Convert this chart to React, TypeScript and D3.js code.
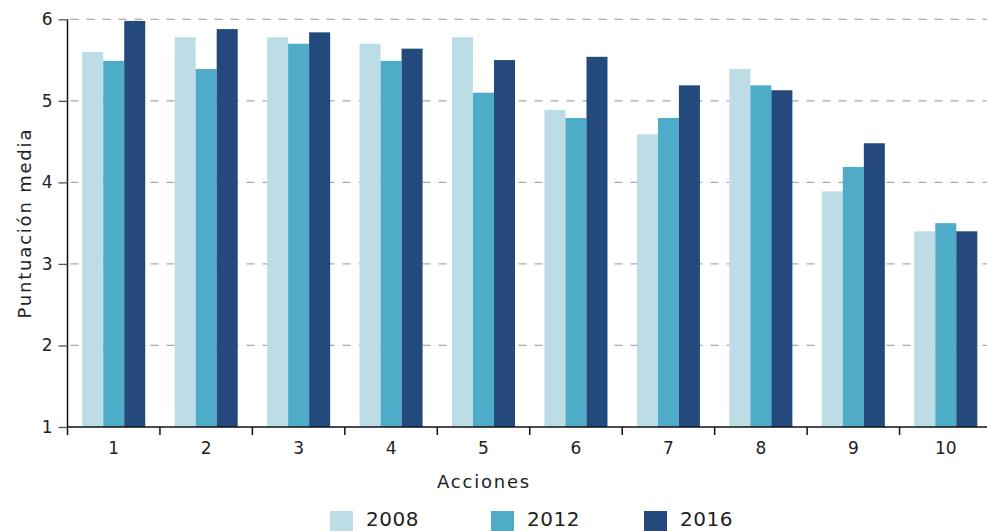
import { useEffect, useRef } from "react";
import * as d3 from "d3";

const acciones = ["1", "2", "3", "4", "5", "6", "7", "8", "9", "10"];
const years = ["2008", "2012", "2016"];
const values2008 = [5.6, 5.78, 5.78, 5.7, 5.78, 4.89, 4.59, 5.39, 3.89, 3.4];
const values2012 = [5.49, 5.39, 5.7, 5.49, 5.1, 4.79, 4.79, 5.19, 4.19, 3.5];
const values2016 = [5.98, 5.88, 5.84, 5.64, 5.5, 5.54, 5.19, 5.13, 4.48, 3.4];
const yTicks = [1, 2, 3, 4, 5, 6];
const colors = ["#bddde6", "#4facc8", "#24497c"];

const FONT = "'DejaVu Sans', sans-serif";

const AccionesChart = () => {
  const svgRef = useRef(null);

  useEffect(() => {
    if (!svgRef.current) return;
    const svg = d3.select(svgRef.current);
    svg.selectAll("*").remove();

    const W = 987;
    const H = 531;
    const left = 67.5;
    const right = 992; // last band runs off the canvas, like the original
    const top = 19.3;
    const bottom = 427;

    svg.attr("width", W).attr("height", H);

    const series = [values2008, values2012, values2016];
    const rows = acciones.map((a, i) => ({
      accion: a,
      vals: years.map((y, j) => ({ year: y, value: series[j][i], color: colors[j] })),
    }));

    const x0 = d3.scaleBand().domain(acciones).range([left, right]).padding(0);
    const x1 = d3
      .scaleBand()
      .domain(years)
      .range([0, x0.bandwidth()])
      .paddingInner(0)
      .paddingOuter(0.7);
    const y = d3.scaleLinear().domain([1, 6]).range([bottom, top]);

    // dashed grid lines
    svg
      .append("g")
      .selectAll("line")
      .data(yTicks.filter((t) => t > 1))
      .join("line")
      .attr("x1", left)
      .attr("x2", W)
      .attr("y1", (d) => y(d))
      .attr("y2", (d) => y(d))
      .attr("stroke", "#aaaaaa")
      .attr("stroke-width", 1.3)
      .attr("stroke-dasharray", "8,8")
      .attr("stroke-dashoffset", -3);

    // bars
    svg
      .append("g")
      .selectAll("g")
      .data(rows)
      .join("g")
      .attr("transform", (d) => `translate(${x0(d.accion)},0)`)
      .selectAll("rect")
      .data((d) => d.vals)
      .join("rect")
      .attr("x", (d) => x1(d.year))
      .attr("y", (d) => y(d.value))
      .attr("width", x1.bandwidth())
      .attr("height", (d) => bottom - y(d.value))
      .attr("fill", (d) => d.color);

    // x axis
    const xAxis = svg
      .append("g")
      .attr("transform", `translate(0,${bottom})`)
      .call(d3.axisBottom(x0).tickSize(0));
    xAxis.select(".domain").remove();
    xAxis
      .selectAll("text")
      .attr("y", 27)
      .attr("dy", 0)
      .attr("font-family", FONT)
      .attr("font-size", 17)
      .attr("fill", "#222");
    xAxis
      .append("line")
      .attr("x1", left)
      .attr("x2", W)
      .attr("stroke", "#111")
      .attr("stroke-width", 1.5);
    xAxis
      .selectAll(".sep")
      .data(acciones)
      .join("line")
      .attr("class", "sep")
      .attr("x1", (d) => x0(d))
      .attr("x2", (d) => x0(d))
      .attr("y1", 0)
      .attr("y2", 8)
      .attr("stroke", "#111")
      .attr("stroke-width", 1.5);

    // y axis
    const yAxis = svg
      .append("g")
      .attr("transform", `translate(${left},0)`)
      .call(d3.axisLeft(y).tickValues(yTicks).tickFormat(d3.format("d")).tickSize(9).tickPadding(6));
    yAxis.select(".domain").attr("stroke", "#111").attr("stroke-width", 1.5).attr("d", `M0,${top}V${bottom}`);
    yAxis.selectAll(".tick line").attr("stroke", "#555").attr("stroke-width", 1.3);
    yAxis
      .selectAll("text")
      .attr("font-family", FONT)
      .attr("font-size", 17)
      .attr("fill", "#222");

    // axis titles
    svg
      .append("text")
      .attr("x", 484)
      .attr("y", 488)
      .attr("text-anchor", "middle")
      .attr("font-family", FONT)
      .attr("font-size", 18)
      .attr("letter-spacing", 1.8)
      .attr("fill", "#222")
      .text("Acciones");

    svg
      .append("text")
      .attr("transform", `translate(31,${(top + bottom) / 2}) rotate(-90)`)
      .attr("text-anchor", "middle")
      .attr("font-family", FONT)
      .attr("font-size", 18)
      .attr("letter-spacing", 1.8)
      .attr("fill", "#222")
      .text("Puntuación media");

    // legend
    const legendX = d3.scaleOrdinal<string, number>().domain(years).range([330, 491, 644]);
    const legend = svg
      .append("g")
      .selectAll("g")
      .data(years)
      .join("g")
      .attr("transform", (d) => `translate(${legendX(d)},511)`);
    legend
      .append("rect")
      .attr("width", 23)
      .attr("height", 23)
      .attr("fill", (d, i) => colors[i]);
    legend
      .append("text")
      .attr("x", 36)
      .attr("y", 15)
      .attr("font-family", FONT)
      .attr("font-size", 20)
      .attr("letter-spacing", 0.5)
      .attr("fill", "#222")
      .text((d) => d);
  }, []);

  return (
    <svg
      ref={svgRef}
      style={{ position: "absolute", left: 0, top: 0, display: "block" }}
    ></svg>
  );
};

export default function App() {
  return <AccionesChart />;
}
